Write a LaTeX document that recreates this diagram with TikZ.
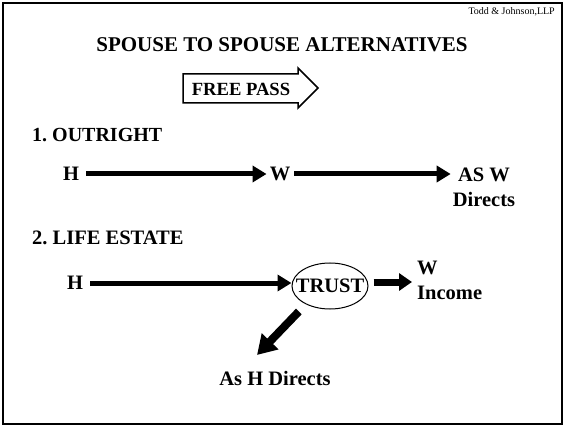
\documentclass[tikz,border=0pt]{standalone}
\usepackage{fontspec}
\setmainfont{Liberation Serif}
\usetikzlibrary{arrows.meta,shapes.geometric}
\tikzset{
  lbl/.style={font=\fontsize{20.5}{25}\selectfont\bfseries\frenchspacing, inner sep=0pt},
  flow/.style={line width=5pt, -{Triangle[length=14pt,width=16pt]}},
  stub/.style={line width=7pt, -{Triangle[length=13pt,width=17pt]}},
  fat/.style={line width=8pt, -{Triangle[length=19pt,width=22pt]}},
}
\begin{document}
\begin{tikzpicture}[x=1pt,y=-1pt]
  \useasboundingbox (0,0) rectangle (564,427);
  % page frame
  \draw[line width=2pt] (3,3) rectangle (562,424);

  % firm name and heading
  \node[font=\fontsize{10}{12}\selectfont, anchor=east, inner sep=0pt] (firm) at (555,12) {Todd \& Johnson,LLP};
  \node[font=\fontsize{21}{25}\selectfont\bfseries, inner sep=0pt] (title) at (282,45) {SPOUSE TO SPOUSE ALTERNATIVES};

  % block arrow with its label
  \draw[line width=1.5pt, line join=miter]
    (183,74) -- (298,74) -- (298,68) -- (318,88) -- (298,108) -- (298,103) -- (183,103) -- cycle;
  \node[font=\fontsize{18.6}{22}\selectfont\bfseries, inner sep=0pt] (pass) at (241,89) {FREE PASS};

  % 1. outright transfer
  \node[lbl, anchor=west, font=\fontsize{20}{24}\selectfont\bfseries\frenchspacing] (sec1) at (32,135) {1. OUTRIGHT};
  \node[lbl] (h1) at (71,174) {H};
  \node[lbl] (w1) at (280,174) {W};
  \node[lbl, align=center] (asw) at (484,187) {AS W\\Directs};
  \draw[flow, shorten <=7pt, shorten >=3pt] (h1.east) -- (h1.east -| w1.west);
  \draw[flow, shorten <=4pt, shorten >=2pt] (w1.east) -- (w1.east -| asw.west);

  % 2. life estate through a trust
  \node[lbl, anchor=west] (sec2) at (32,238) {2. LIFE ESTATE};
  \node[lbl] (h2) at (75,283) {H};
  \node[ellipse, draw, line width=1pt, minimum width=76pt, minimum height=46pt, inner sep=0pt] (trust) at (330,286) {};
  \node[lbl] (trusttext) at (trust) {TRUST};
  \node[lbl, align=left, anchor=north west] (w2) at (417,261) {W\\Income};
  \node[lbl] (ahd) at (275,378) {As H Directs};
  \coordinate (dtip) at (257,355);
  \draw[flow, shorten <=7pt] (h2.east) -- (h2.east -| trust.west);
  \draw[stub, shorten <=5pt, shorten >=5pt] (trust.east |- 0,282) -- (w2.west |- 0,282);
  \draw[fat, shorten <=10pt] (trust.217) -- (dtip);
\end{tikzpicture}
\end{document}
